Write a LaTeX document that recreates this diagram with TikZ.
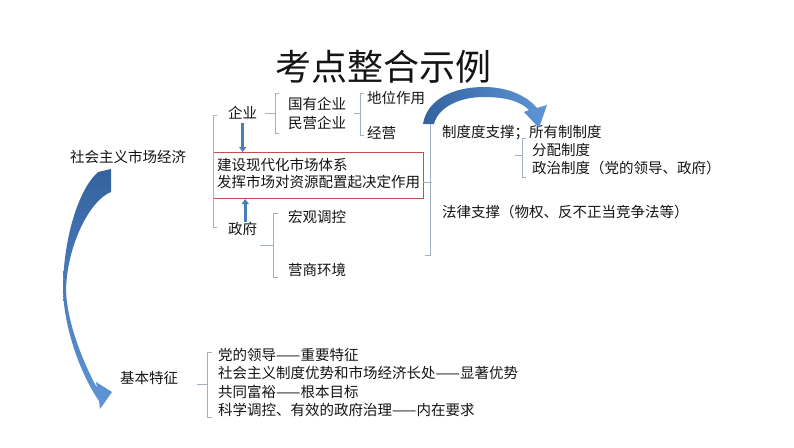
\documentclass[tikz,border=0pt]{standalone}
\usepackage{fontspec}
\setmainfont{Noto Sans CJK SC}
\usetikzlibrary{arrows.meta}
\definecolor{txt}{RGB}{20,20,20}
\definecolor{brk}{RGB}{160,175,195}
\definecolor{boxred}{RGB}{192,80,77}
\definecolor{arrblue}{RGB}{74,126,187}
\definecolor{arrdark}{RGB}{52,98,158}
\definecolor{arrlight}{RGB}{95,150,215}
\begin{document}
\begin{tikzpicture}[x=1pt,y=-1pt,
  lbl/.style={anchor=west,inner sep=0pt,text=txt,font=\fontsize{14.5}{18}\selectfont},
  multi/.style={lbl,align=left},
  brace/.style={draw=brk,line width=0.8pt},
  vlink/.style={draw=arrblue,line width=2.6pt,-{Triangle[length=5pt,width=7pt]}},
  bigarrow/.style={draw=none}]
\useasboundingbox (0,0) rectangle (794,447);
\fill[white] (0,0) rectangle (794,447);

% title
\node[inner sep=0pt,text=txt,font=\fontsize{36}{40}\selectfont] (title) at (383.5,67) {考点整合示例};

% text nodes
\node[lbl] (shsc) at (70,157) {社会主义市场经济};
\node[lbl] (qy) at (228,113) {企业};
\node[lbl] (gy) at (288,104) {国有企业};
\node[lbl] (my) at (288,123) {民营企业};
\node[lbl] (dw) at (367,98) {地位作用};
\node[lbl] (jy) at (367,133) {经营};
\node[draw=boxred,line width=1pt,minimum width=210pt,minimum height=46pt,inner sep=0pt,anchor=north west] (box) at (213,152) {};
\node[multi,font=\fontsize{14.5}{17}\selectfont] (jstx) at (217,173) {建设现代化市场体系\\发挥市场对资源配置起决定作用};
\node[lbl] (zf) at (228,229) {政府};
\node[lbl] (hg) at (288,217) {宏观调控};
\node[lbl] (ys) at (288,270) {营商环境};
\node[lbl] (zd) at (442,133) {制度度支撑；所有制制度};
\node[multi] (fp) at (532,159) {分配制度\\政治制度（党的领导、政府）};
\node[lbl] (fl) at (442,212) {法律支撑（物权、反不正当竞争法等）};
\node[lbl] (jbtz) at (120,378) {基本特征};
\node[multi,font=\fontsize{14.5}{18.3}\selectfont] (tz) at (218,382.5) {党的领导——重要特征\\社会主义制度优势和市场经济长处——显著优势\\共同富裕——根本目标\\科学调控、有效的政府治理——内在要求};

% brackets
\draw[brace] (217,115) -- (213,115) -- (213,227) -- (217,227);
\draw[brace] (279,93) -- (275,93) -- (275,133) -- (279,133);
\draw[brace] (265,113) -- (275,113);
\draw[brace] (364,93) -- (360,93) -- (360,135) -- (364,135);
\draw[brace] (354,113) -- (360,113);
\draw[brace] (278,213) -- (273,213) -- (273,277) -- (278,277);
\draw[brace] (260,245) -- (273,245);
\draw[brace] (430,117) -- (430,255) -- (425,255);
\draw[brace] (423,182) -- (432,182);
\draw[brace] (526,138) -- (522,138) -- (522,177) -- (526,177);
\draw[brace] (515,155) -- (522,155);
\draw[brace] (212,352) -- (207,352) -- (207,417) -- (212,417);
\draw[brace] (197,384) -- (207,384);

% vertical arrows
\draw[vlink] ([yshift=-3pt]qy.south) -- (qy.south |- box.north);
\draw[vlink] ([xshift=2.5pt]zf.north) -- ([xshift=2.5pt]zf.north |- box.south);

% top curved arrow
\path[left color=arrdark,right color=arrlight]
  (423,124) .. controls (427,100) and (452,87) .. (484,87)
  .. controls (508,87) and (527,96) .. (537,108)
  -- (547,105) -- (539,128) -- (524,112) -- (529,110)
  .. controls (520,101) and (505,97) .. (484,97)
  .. controls (458,97) and (438,108) .. (434,124) -- cycle;

% left curved arrow
\path[top color=arrdark,bottom color=arrlight]
  (98,172) -- (111,169) -- (111,192)
  .. controls (90,200) and (67,245) .. (66,290)
  .. controls (67,322) and (82,360) .. (97,388)
  -- (96,382) -- (112,392) -- (100,409) -- (99,401)
  .. controls (78,370) and (64,325) .. (63,290)
  .. controls (63,240) and (78,190) .. (98,172) -- cycle;
\end{tikzpicture}
\end{document}
